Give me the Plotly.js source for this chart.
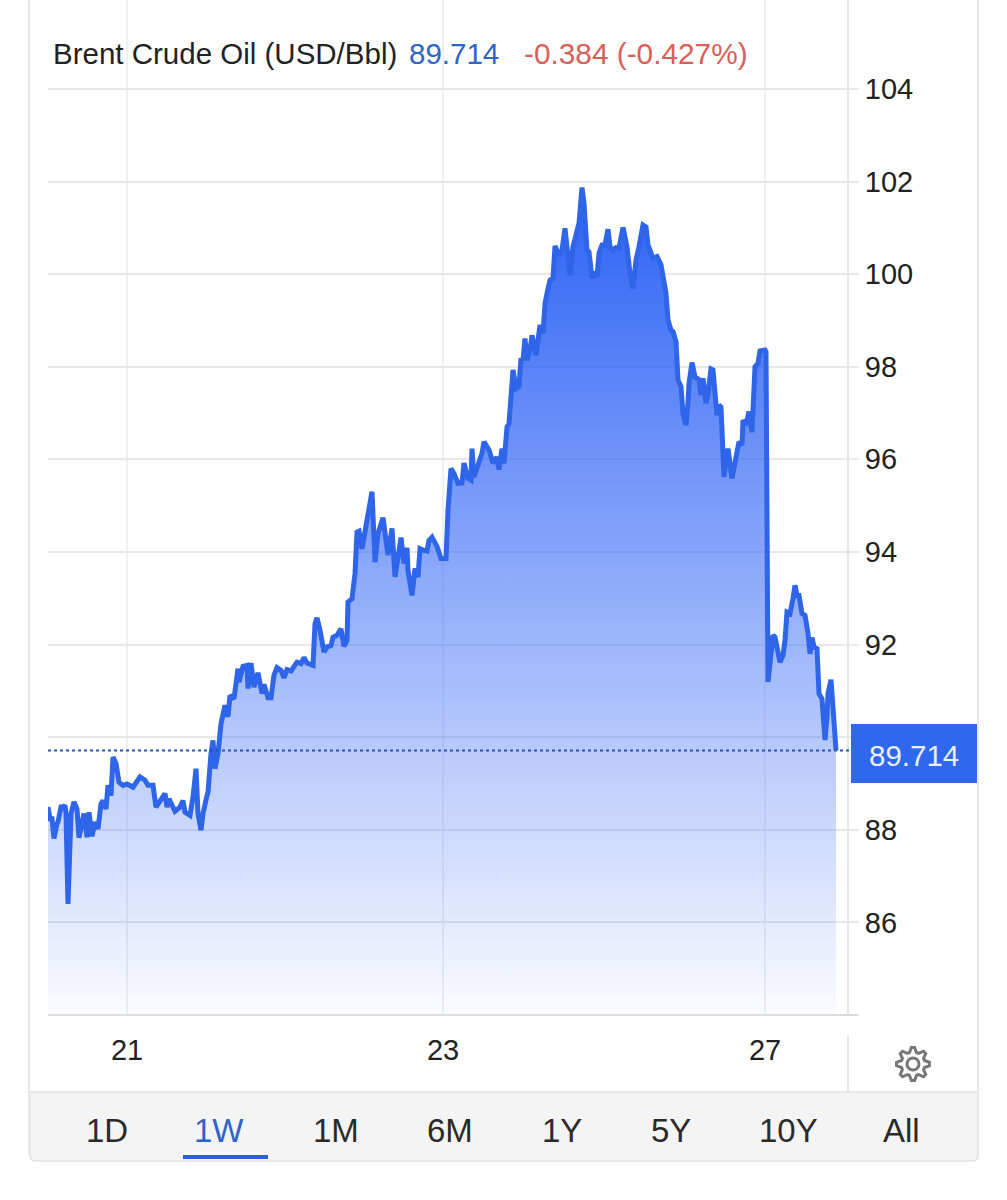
<!DOCTYPE html>
<html>
<head>
<meta charset="utf-8">
<script src="https://cdn.plot.ly/plotly-3.0.1.min.js"></script>
<style>html,body{margin:0;padding:0;background:#fff}#chart{width:1007px;height:1200px}</style>
</head>
<body>
<div id="chart"></div>
<script>
// Time position along the trading axis (session-compressed time units)
const timeA = [0,2,4,6,9,10,13,15,17,18,20,23,26,29,31,34,36,39,41,44,47,50,53,55,58,60,63,65,68,71,75,79,85,92,97,100,105,108,112,117,119,121,127,132,135,137,142,145,148,150,153,155,159,160,163,165,167,170,173,177,180,182,186,190,191,195,199,200,203,206,210,214,216,220,223,226,229,233,236,239,243,249,253,256,259,265,267,269,272,276,279,283,285,289,293,296,299,300,304,307,309,311,314,317,320,324,327,330,335,340,344,347,353,356,359,360,364,367,370,372,375,379,381,384,389,393,398,400];
const priceA = [88.49,88.24,88.24,87.81,88.13,88.17,88.49,88.49,88.53,88.35,86.40,88.35,88.60,88.45,87.83,88.13,88.35,87.84,88.38,87.86,88.17,88.02,88.56,88.63,88.45,88.96,88.74,89.57,89.43,89.03,88.96,88.99,88.92,89.14,89.07,88.96,88.96,88.49,88.63,88.78,88.49,88.67,88.40,88.49,88.63,88.38,88.31,88.71,89.32,88.35,87.99,88.35,88.74,88.81,89.64,89.93,89.32,89.64,90.29,90.69,90.44,90.90,90.83,91.48,91.19,91.53,91.55,91.05,91.60,91.08,91.39,90.94,91.14,90.85,90.85,91.34,91.50,91.44,91.28,91.46,91.43,91.62,91.59,91.72,91.60,91.55,92.45,92.58,92.31,91.84,91.95,91.98,92.16,92.20,92.34,91.96,92.09,92.92,92.99,93.53,94.43,94.45,94.07,94.43,94.83,95.30,93.78,94.40,94.74,93.93,94.51,93.46,94.31,93.75,94.09,93.60,93.06,93.64,93.46,94.07,94.04,94.02,94.25,94.32,94.12,93.86,93.86,94.90];
const timeB = [403,406,410,414,416,420,423,424,426,430,434,436,441,445,449,451,454,456,459,461,464,465,468,471,473,475,477,479,482,484,488,492,495,497,499,502,505,507,511,514,517,522,525,528,531,534,536,539,541,544,547,549,551,554,557,560,562,565,568,571,575,579,582,585,588,591,595,598,600,605,609,613,615,618,620,623,625,628,630,633,635,638,640,641,644,647,651,653,655,658,660,663,665,667,669,671,673,676,680,684,689,691,694,695,698,701,704,707,710,712,717];
const priceB = [95.80,95.69,95.48,95.49,95.92,95.59,95.55,96.23,95.62,95.91,96.13,96.38,96.20,95.92,96.05,95.78,96.23,95.91,96.70,96.77,97.49,97.93,97.53,97.57,98.18,98.14,98.61,98.14,98.36,98.68,98.25,98.90,98.72,99.37,99.58,99.87,99.91,100.61,100.41,100.52,100.99,99.98,100.59,100.88,101.10,101.87,101.53,100.52,100.48,99.91,100.05,99.94,100.45,100.63,100.63,100.97,100.59,100.52,100.57,100.56,101.01,100.59,100.02,99.69,100.30,100.59,101.06,101.02,100.63,100.34,100.38,100.20,99.91,99.58,99.01,98.79,98.76,98.54,97.71,97.57,96.99,96.74,97.21,97.64,98.09,97.78,97.72,97.39,97.75,97.21,97.42,97.95,97.93,97.35,96.95,97.17,97.13,95.62,96.23,95.59,96.27,96.38,96.31,96.85,96.74,97.03,96.59,98.00,98.07,98.34,98.36];
const timeC = [718,720,723,725,727,729,732,735,737,739,742,745,747,749,751,754,757,760,762,764,766,769,771,774,777,779,780,783,785,788];
const priceC = [98.32,91.19,91.88,92.20,92.16,91.88,91.62,91.77,92.09,92.70,92.67,92.99,93.28,93.06,93.06,92.67,92.63,92.24,91.80,92.15,91.95,91.91,90.94,90.83,89.94,90.43,90.94,91.24,90.65,89.714];

const yTickVals = [84,86,88,90,92,94,96,98,100,102,104];
const yTickText = ['','86','88','','92','94','96','98','100','102','104'];
const dayTickVals = [79,395,717];
const dayTickText = ['21','23','27'];
const rangeButtons = ['1D','1W','1M','6M','1Y','5Y','10Y','All'];
const rangeButtonX = [107,219,336,450,562,671,788,902];
const titleText = 'Brent Crude Oil (USD/Bbl)';
const lastPrice = 89.714;
const lastText = '89.714';
const changeText = '-0.384 (-0.427%)';

const times = timeA.concat(timeB, timeC);
const prices = priceA.concat(priceB, priceC);

// page-pixel to paper helpers (layout chrome only)
const PX = p => (p - 48) / 800;
const PY = p => (1015 - p) / 1015;
const FONT = '"Liberation Sans", Arial, sans-serif';

function line(x0, y0, x1, y1, color, width, extra) {
  return Object.assign({type:'line', xref:'paper', yref:'paper', x0:PX(x0), x1:PX(x1), y0:PY(y0), y1:PY(y1),
    line:{color:color, width:width}, layer:'above'}, extra || {});
}
function txt(text, px, py, size, color, anchor) {
  return {text:text, xref:'paper', yref:'paper', x:PX(px), y:PY(py), showarrow:false,
    xanchor:anchor || 'center', yanchor:'middle', font:{family:FONT, size:size, color:color}};
}
function gearPath(cx, cy, rOut, rIn, teeth) {
  let d = '';
  const n = teeth * 4;
  for (let i = 0; i < n; i++) {
    const a = (i - 0.5) * 2 * Math.PI / n;
    const r = (i % 4 < 2) ? rOut : rIn;
    d += (i ? 'L' : 'M') + PX(cx + r * Math.cos(a)) + ',' + PY(cy + r * Math.sin(a));
  }
  return d + 'Z';
}
const footer = 'M' + PX(30) + ',' + PY(1092) + 'L' + PX(978) + ',' + PY(1092) + 'L' + PX(978) + ',' + PY(1155) +
  'Q' + PX(978) + ',' + PY(1161) + ' ' + PX(972) + ',' + PY(1161) + 'L' + PX(36) + ',' + PY(1161) +
  'Q' + PX(30) + ',' + PY(1161) + ' ' + PX(30) + ',' + PY(1155) + 'Z';

const shapes = [
  {type:'path', path:footer, xref:'paper', yref:'paper', fillcolor:'#f4f4f4', line:{color:'#e2e2e2', width:1.5}, layer:'below'},
  line(29, 0, 29, 1155, '#e8e8e8', 2),
  line(978, 0, 978, 1155, '#e8e8e8', 2),
  line(848, 0, 848, 1015, '#e6e6e6', 2),
  line(848, 1035, 848, 1092, '#e6e6e6', 2),
  line(48, 1015, 858, 1015, '#dedede', 2),
  line(183, 1157, 268, 1157, '#2f5fd0', 4),
  {type:'line', xref:'paper', yref:'y', x0:0, x1:PX(851), y0:lastPrice, y1:lastPrice,
    line:{color:'#2a55b0', width:2, dash:'dot'}, layer:'above'},
  {type:'rect', xref:'paper', yref:'paper', x0:PX(851), x1:PX(977), y0:PY(724), y1:PY(783),
    fillcolor:'#2f68ec', line:{width:0}, layer:'above'},
  {type:'path', path:gearPath(913, 1064, 16.5, 12, 8), xref:'paper', yref:'paper', line:{color:'#777777', width:3}, layer:'above'},
  {type:'circle', xref:'paper', yref:'paper', x0:PX(907), x1:PX(919), y0:PY(1058), y1:PY(1070), line:{color:'#777777', width:3}, layer:'above'}
];

const annotations = [
  txt(titleText, 51, 53, 29.5, '#222222', 'left'),
  txt(lastText, 407, 53, 29.5, '#2f65c8', 'left'),
  txt(changeText, 522, 53, 29.8, '#d9605a', 'left'),
  txt(lastText, 914, 755, 29.5, '#e8efff')
].concat(rangeButtons.map((b, i) => txt(b, rangeButtonX[i], 1130, 33, b === '1W' ? '#2f65c8' : '#2a2a2a')));

Plotly.newPlot('chart', [{
  type:'scatter', mode:'lines', x:times, y:prices,
  line:{color:'#2f65e8', width:5, shape:'linear'},
  fill:'tozeroy',
  fillgradient:{type:'vertical', start:84, stop:102,
    colorscale:[[0,'rgba(42,96,245,0.02)'],[1,'rgba(42,96,245,1)']]},
  hoverinfo:'skip', showlegend:false
}], {
  width:1007, height:1200,
  margin:{l:48, r:159, t:0, b:185, pad:0},
  paper_bgcolor:'#ffffff', plot_bgcolor:'#ffffff',
  showlegend:false,
  font:{family:FONT, color:'#222222'},
  xaxis:{type:'linear', range:[0,800], tickmode:'array', tickvals:dayTickVals, ticktext:dayTickText,
    showgrid:true, gridcolor:'#eff0f4', gridwidth:2, zeroline:false, showline:false, ticks:'',
    ticklabelstandoff:15, tickfont:{family:FONT, size:29, color:'#222222'}},
  yaxis:{type:'linear', side:'right', range:[84,105.92], tickmode:'array', tickvals:yTickVals, ticktext:yTickText,
    showgrid:true, gridcolor:'#e8e8ec', gridwidth:2, zeroline:false, showline:false,
    ticks:'outside', ticklen:10, tickwidth:2, tickcolor:'#e8e8e8',
    ticklabelstandoff:0, tickfont:{family:FONT, size:29, color:'#222222'}},
  shapes:shapes, annotations:annotations
}, {staticPlot:true, displayModeBar:false});
</script>
</body>
</html>
